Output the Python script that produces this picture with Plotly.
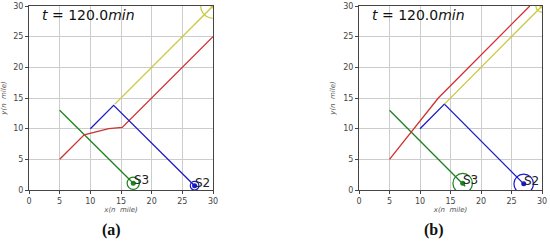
import plotly.graph_objects as go
from plotly.subplots import make_subplots

# (a)
a_red_x = [5, 9, 13, 15.2, 30]
a_red_y = [5, 9, 10, 10.2, 25]
a_yel_x = [14, 30]
a_yel_y = [14, 30]
a_blue_x = [10, 13.8, 27]
a_blue_y = [10, 13.8, 0.7]
a_green_x = [5, 17]
a_green_y = [13, 1.1]

# (b)
b_red_x = [5, 13, 28]
b_red_y = [5, 15, 30]
b_yel_x = [14, 30]
b_yel_y = [14, 30]
b_blue_x = [10, 14, 27]
b_blue_y = [10, 14, 1]
b_green_x = [5, 17.4]
b_green_y = [13, 0.6]

ticks = [0, 5, 10, 15, 20, 25, 30]

RED = '#d03030'
BLUE = '#1a1ac8'
GREEN = '#1f801f'
YEL = '#c8c83a'

fig = make_subplots(rows=1, cols=2)

def add_panel(col, red, yel, blue, green):
    for (xs, ys), c in [(green, GREEN), (red, RED), (blue, BLUE), (yel, YEL)]:
        fig.add_trace(go.Scatter(x=xs, y=ys, mode='lines', line=dict(color=c, width=1.3),
                                 showlegend=False), row=1, col=col)

add_panel(1, (a_red_x, a_red_y), (a_yel_x, a_yel_y), (a_blue_x, a_blue_y), (a_green_x, a_green_y))
add_panel(2, (b_red_x, b_red_y), (b_yel_x, b_yel_y), (b_blue_x, b_blue_y), (b_green_x, b_green_y))

# ships: (x, y, radius, color) per panel
ships_a = [(17, 1.1, 1.0, GREEN), (27, 0.7, 0.7, BLUE), (30, 30, 2.0, YEL)]
ships_b = [(17, 1.1, 1.6, GREEN), (27, 1.0, 1.6, BLUE), (30, 30, 1.0, YEL)]

for col, ships in [(1, ships_a), (2, ships_b)]:
    xr = 'x' if col == 1 else 'x2'
    yr = 'y' if col == 1 else 'y2'
    for sx, sy, r, c in ships:
        fig.add_shape(type='circle', xref=xr, yref=yr, x0=sx - r, x1=sx + r, y0=sy - r, y1=sy + r,
                      line=dict(color=c, width=1.2))
        fig.add_trace(go.Scatter(x=[sx], y=[sy], mode='markers', marker=dict(color=c, size=5),
                                 showlegend=False, cliponaxis=True), row=1, col=col)
    for (sx, sy, r, c), name in zip(ships[:2], ['S3', 'S2']):
        fig.add_annotation(x=sx - 0.2, y=sy + 0.5, xref=xr, yref=yr, text=name,
                           showarrow=False, xanchor='left', yanchor='middle',
                           font=dict(size=12, color='#222'))
    fig.add_annotation(x=1.8, y=28.6, xref=xr, yref=yr, text='<i>t</i> = 120.0<i>min</i>',
                       showarrow=False, xanchor='left', yanchor='middle',
                       font=dict(size=14, color='#111'))

axis_style = dict(range=[0, 30], tickvals=ticks, showgrid=True, gridcolor='#cccccc', gridwidth=1,
                  showline=True, linecolor='#444', linewidth=1, mirror=True, ticks='outside',
                  ticklen=3, tickcolor='#444', tickfont=dict(size=8, color='#444'), zeroline=False,
                  automargin=False)

fig.update_xaxes(**axis_style)
fig.update_yaxes(**axis_style)
fig.update_xaxes(title=dict(text='<i>x(n  mile)</i>', font=dict(size=7, color='#555'), standoff=2))
fig.update_yaxes(title=dict(text='<i>y(n  mile)</i>', font=dict(size=7, color='#555'), standoff=6))

fig.update_layout(
    width=550, height=241,
    margin=dict(l=29, r=8, t=6, b=51),
    plot_bgcolor='white', paper_bgcolor='white',
    font=dict(family='DejaVu Sans'),
    xaxis=dict(domain=[0, 184 / 513]),
    xaxis2=dict(domain=[330 / 513, 1]),
    yaxis=dict(domain=[0, 1]),
    yaxis2=dict(domain=[0, 1]),
)

for lbl, px_x in [('<b>(a)</b>', 111), ('<b>(b)</b>', 434)]:
    fig.add_annotation(x=(px_x - 29) / 513, y=(241 - 51 - 230) / 184, xref='paper', yref='paper',
                       text=lbl, showarrow=False, xanchor='center', yanchor='middle',
                       font=dict(size=16, family='Liberation Serif', color='#111'))

# the page's default body margin would push the figure 8px off
fig.write_html("out.html", config={'displayModeBar': False},
               post_script="document.body.style.margin='0';")
